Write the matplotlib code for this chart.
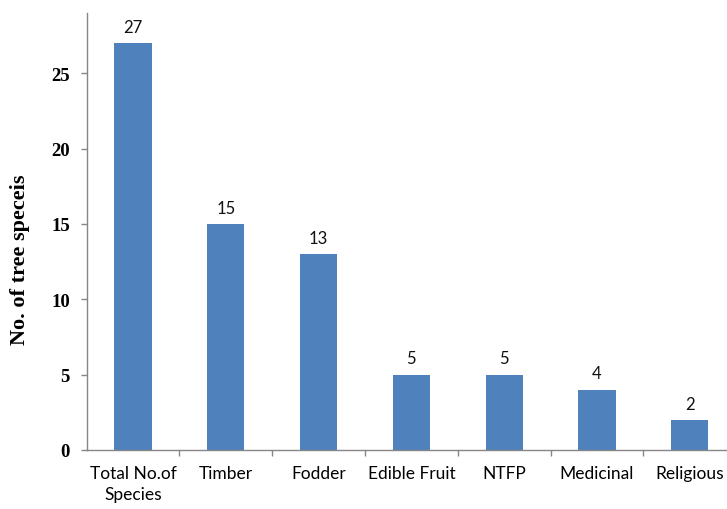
import matplotlib
matplotlib.use('Agg')
import matplotlib.pyplot as plt
import numpy as np

# -----------------------------
# data
# -----------------------------
categories = ['Total No.of\nSpecies', 'Timber', 'Fodder', 'Edible Fruit',
              'NTFP', 'Medicinal', 'Religious']
counts = [27, 15, 13, 5, 5, 4, 2]
yticks = [0, 5, 10, 15, 20, 25]

bar_color = '#4F81BD'
axis_color = '#868686'
sans = ['Lato', 'DejaVu Sans']

fig = plt.figure(figsize=(7.27, 5.10), dpi=100)
ax = fig.add_axes([86.6 / 727, 59 / 510, 1 - 86.6 / 727, 437 / 510])

x = np.arange(len(categories))
bars = ax.bar(x, counts, width=0.4, color=bar_color, zorder=2)

# value labels above bars
for xi, v in zip(x, counts):
    ax.annotate(str(v), (xi, v), xytext=(0, 6), textcoords='offset points',
                ha='center', va='bottom', fontsize=12, family=sans,
                color='#111111')

ax.set_xlim(-0.5, (727 - 86.6) / 92.8 - 0.5)
ax.set_ylim(0, 29)

# x axis: labels on categories, tick marks on boundaries
ax.set_xticks(x)
ax.set_xticklabels(categories, fontsize=12.5, family=sans, linespacing=1.4,
                   color='black')
ax.tick_params(axis='x', which='major', length=0, pad=11)
ax.set_xticks(np.arange(0.5, len(categories) - 1, 1.0), minor=True)
ax.tick_params(axis='x', which='minor', length=4, color=axis_color, width=1)

# y axis
ax.set_yticks(yticks)
ax.set_yticklabels([str(t) for t in yticks], fontsize=13.5,
                   family='Liberation Serif', fontweight='bold')
ax.tick_params(axis='y', length=4, color=axis_color, width=1, pad=8)
ax.set_ylabel('No. of tree speceis', fontsize=16,
              family='Liberation Serif', fontweight='bold')
ax.yaxis.set_label_coords(-0.088, 0.437)

for side in ['top', 'right']:
    ax.spines[side].set_visible(False)
for side in ['left', 'bottom']:
    ax.spines[side].set_color(axis_color)
    ax.spines[side].set_linewidth(1)

fig.savefig('out.png', dpi=100)
plt.close(fig)
